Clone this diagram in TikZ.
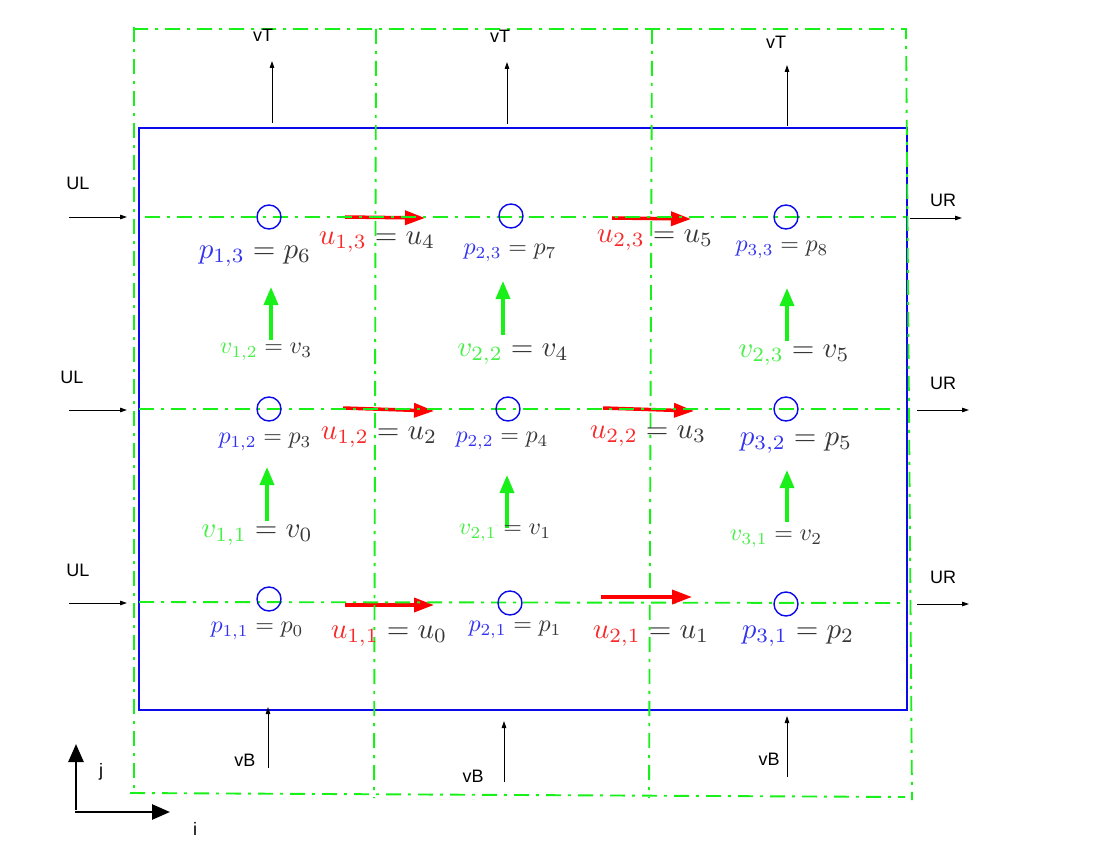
\documentclass[tikz,border=0pt]{standalone}
\usepackage{fontspec}
\newfontfamily\arialf{Liberation Sans}
\usetikzlibrary{arrows.meta}
\definecolor{gline}{RGB}{25,240,25}
\definecolor{gtext}{RGB}{70,240,70}
\definecolor{btext}{RGB}{50,50,240}
\definecolor{rtext}{RGB}{250,40,40}
\definecolor{eqg}{RGB}{55,55,55}
\definecolor{bline}{RGB}{10,10,235}
\newcommand\mlabB[1]{\scalebox{2.9}{#1}}
\newcommand\mlabS[1]{\scalebox{2.4}{#1}}
\begin{document}
\begin{tikzpicture}[x=1pt,y=-1pt,
  gridline/.style={draw=gline,line width=1.9pt,dash pattern=on 15pt off 7pt on 3pt off 7pt},
  pcirc/.style={draw=bline,circle,line width=1.4pt,minimum size=24pt,inner sep=0pt},
  uarrow/.style={draw=red,line width=3.5pt,-{Triangle[length=20pt,width=14pt]}},
  varrow/.style={draw=gline,line width=3.5pt,-{Triangle[length=18pt,width=14pt]}},
  barrow/.style={draw=black,line width=0.8pt,-{Triangle[length=7pt,width=4.5pt]}},
  axarrow/.style={draw=black,line width=2.6pt,-{Triangle[length=18pt,width=15pt]}},
  sflabel/.style={font=\arialf\fontsize{18}{20}\selectfont,text=black,inner sep=0pt},
  big/.style={text=eqg,inner sep=0pt},
  small/.style={text=eqg,inner sep=0pt}]
\useasboundingbox (0,0) rectangle (1106,853);
\fill[white] (0,0) rectangle (1106,853);

% domain
\draw[bline,line width=1.5pt] (139,128) rectangle (907,710);

% red u arrows (under grid lines)
\coordinate (u13a) at (345,217); \coordinate (u13b) at (425,218);
\coordinate (u23a) at (612,218); \coordinate (u23b) at (691,219);
\coordinate (u12a) at (343,408); \coordinate (u12b) at (434,411);
\coordinate (u22a) at (603,408); \coordinate (u22b) at (694,411);
\coordinate (u11a) at (345,605); \coordinate (u11b) at (434,605);
\coordinate (u21a) at (601,597); \coordinate (u21b) at (692,597);
\draw[uarrow] (u13a) -- (u13b);
\draw[uarrow] (u23a) -- (u23b);
\draw[uarrow] (u12a) -- (u12b);
\draw[uarrow] (u22a) -- (u22b);
\draw[uarrow] (u11a) -- (u11b);

% grid lines
\draw[gridline] (133,29) -- (906,29) -- (912,800);
\draw[gridline] (134,27) -- (134,793);
\draw[gridline] (130,793) -- (905,797);
\draw[gridline] (376,29) -- (374,798);
\draw[gridline] (652,29) -- (649,798);
\draw[gridline] (145,217) -- (907,217);
\draw[gridline] (139,409) -- (907,409);
\draw[gridline] (139,602) -- (907,603);

\draw[uarrow] (u21a) -- (u21b);

% pressure points
\node[pcirc] (c13) at (269,217) {};
\node[pcirc] (c23) at (511,216) {};
\node[pcirc] (c33) at (786,217) {};
\node[pcirc] (c12) at (269,409) {};
\node[pcirc] (c22) at (508,409) {};
\node[pcirc] (c32) at (786,409) {};
\node[pcirc] (c11) at (269,599) {};
\node[pcirc] (c21) at (510,603) {};
\node[pcirc] (c31) at (786,604) {};

% green v arrows
\coordinate (v12a) at (271,340); \coordinate (v12b) at (271,287);
\coordinate (v22a) at (503,335); \coordinate (v22b) at (503,281);
\coordinate (v23a) at (787,341); \coordinate (v23b) at (787,288);
\coordinate (v11a) at (267,521); \coordinate (v11b) at (267,467);
\coordinate (v21a) at (507,528); \coordinate (v21b) at (507,475);
\coordinate (v31a) at (787,522); \coordinate (v31b) at (787,470);
\draw[varrow] (v12a) -- (v12b);
\draw[varrow] (v22a) -- (v22b);
\draw[varrow] (v23a) -- (v23b);
\draw[varrow] (v11a) -- (v11b);
\draw[varrow] (v21a) -- (v21b);
\draw[varrow] (v31a) -- (v31b);

% labels
\node[big]   (lp13) at (255,256) {\mlabB{${\color{btext}p_{1,3}}=p_6$}};
\node[big]   (lu13) at (377,242) {\mlabB{${\color{rtext}u_{1,3}}=u_4$}};
\node[small] (lp23) at (510,253) {\mlabS{${\color{btext}p_{2,3}}=p_7$}};
\node[big]   (lu23) at (655,240) {\mlabB{${\color{rtext}u_{2,3}}=u_5$}};
\node[small] (lp33) at (782,250) {\mlabS{${\color{btext}p_{3,3}}=p_8$}};
\node[small] (lv12) at (266,352) {\mlabS{${\color{gtext}v_{1,2}}=v_3$}};
\node[big]   (lv22) at (513,354) {\mlabB{${\color{gtext}v_{2,2}}=v_4$}};
\node[big]   (lv23) at (794,355) {\mlabB{${\color{gtext}v_{2,3}}=v_5$}};
\node[small] (lp12) at (265,442) {\mlabS{${\color{btext}p_{1,2}}=p_3$}};
\node[big]   (lu12) at (379,437) {\mlabB{${\color{rtext}u_{1,2}}=u_2$}};
\node[small] (lp22) at (502,441) {\mlabS{${\color{btext}p_{2,2}}=p_4$}};
\node[big]   (lu22) at (648,436) {\mlabB{${\color{rtext}u_{2,2}}=u_3$}};
\node[big]   (lp32) at (796,443) {\mlabB{${\color{btext}p_{3,2}}=p_5$}};
\node[big]   (lv11) at (257,535) {\mlabB{${\color{gtext}v_{1,1}}=v_0$}};
\node[small] (lv21) at (505,533) {\mlabS{${\color{gtext}v_{2,1}}=v_1$}};
\node[small] (lv31) at (776,539) {\mlabS{${\color{gtext}v_{3,1}}=v_2$}};
\node[small] (lp11) at (257,631) {\mlabS{${\color{btext}p_{1,1}}=p_0$}};
\node[big]   (lu11) at (389,636) {\mlabB{${\color{rtext}u_{1,1}}=u_0$}};
\node[small] (lp21) at (515,630) {\mlabS{${\color{btext}p_{2,1}}=p_1$}};
\node[big]   (lu21) at (651,636) {\mlabB{${\color{rtext}u_{2,1}}=u_1$}};
\node[big]   (lp31) at (798,636) {\mlabB{${\color{btext}p_{3,1}}=p_2$}};

% boundary arrows: top
\coordinate (t1a) at (272,123); \coordinate (t1b) at (272,61);
\coordinate (t2a) at (507,124); \coordinate (t2b) at (507,62);
\coordinate (t3a) at (787,126); \coordinate (t3b) at (787,65);
\draw[barrow] (t1a) -- (t1b);
\draw[barrow] (t2a) -- (t2b);
\draw[barrow] (t3a) -- (t3b);
\node[sflabel] (vT1) at (263,35) {vT};
\node[sflabel] (vT2) at (500,36) {vT};
\node[sflabel] (vT3) at (776,42) {vT};

% left
\coordinate (l1a) at (69,217); \coordinate (l1b) at (127,217);
\coordinate (l2a) at (69,410); \coordinate (l2b) at (127,410);
\coordinate (l3a) at (69,603); \coordinate (l3b) at (127,603);
\draw[barrow] (l1a) -- (l1b);
\draw[barrow] (l2a) -- (l2b);
\draw[barrow] (l3a) -- (l3b);
\node[sflabel] (UL1) at (78,183) {UL};
\node[sflabel] (UL2) at (72,377) {UL};
\node[sflabel] (UL3) at (78,570) {UL};

% right
\coordinate (r1a) at (910,218); \coordinate (r1b) at (962,218);
\coordinate (r2a) at (917,410); \coordinate (r2b) at (969,410);
\coordinate (r3a) at (917,604); \coordinate (r3b) at (969,604);
\draw[barrow] (r1a) -- (r1b);
\draw[barrow] (r2a) -- (r2b);
\draw[barrow] (r3a) -- (r3b);
\node[sflabel] (UR1) at (943,200) {UR};
\node[sflabel] (UR2) at (943,383) {UR};
\node[sflabel] (UR3) at (943,577) {UR};

% bottom
\coordinate (b1a) at (268,768); \coordinate (b1b) at (268,707);
\coordinate (b2a) at (504,782); \coordinate (b2b) at (504,721);
\coordinate (b3a) at (787,777); \coordinate (b3b) at (787,716);
\draw[barrow] (b1a) -- (b1b);
\draw[barrow] (b2a) -- (b2b);
\draw[barrow] (b3a) -- (b3b);
\node[sflabel] (vB1) at (245,760) {vB};
\node[sflabel] (vB2) at (473,776) {vB};
\node[sflabel] (vB3) at (769,759) {vB};

% axes
\coordinate (jy) at (76,744);
\coordinate (ix) at (170,812);
\coordinate (jo) at (76,810);
\coordinate (io) at (75,812);
\draw[axarrow] (jo) -- (jy);
\draw[axarrow] (io) -- (ix);
\node[sflabel] (jl) at (101,772) {j};
\node[sflabel] (il) at (195,829) {i};
\end{tikzpicture}
\end{document}
